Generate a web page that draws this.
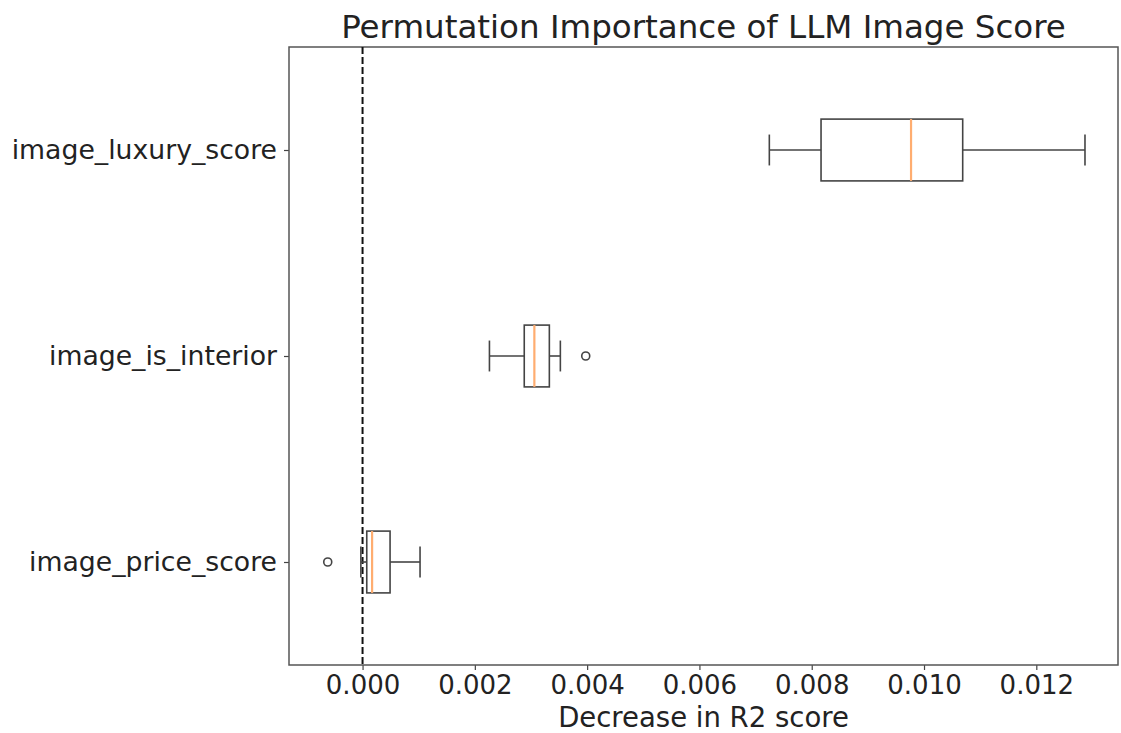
<!DOCTYPE html>
<html>
<head>
<meta charset="utf-8">
<script src="https://cdn.jsdelivr.net/npm/d3@7"></script>
<style>
  body { margin: 0; background: #fff; }
  svg { display: block; font-family: "DejaVu Sans", sans-serif; }
</style>
</head>
<body>
<div id="chart"></div>
<script>
// features, bottom to top (matplotlib order)
const features = ["image_price_score", "image_is_interior", "image_luxury_score"];
const whiskerLow = [-0.00003, 0.00226, 0.007245];
const q1 = [0.000075, 0.00288, 0.008166];
const median = [0.00017, 0.00306, 0.009769];
const q3 = [0.00049, 0.003327, 0.010689];
const whiskerHigh = [0.001024, 0.003523, 0.012867];
const outliers = [[-0.00062], [0.003975], []];
const xTicks = [0, 0.002, 0.004, 0.006, 0.008, 0.010, 0.012];

const width = 1121;
const height = 733;
const margin = { top: 47, right: 3, bottom: 68, left: 289 };

const x = d3
  .scaleLinear()
  .domain([-0.00131, 0.013455])
  .range([margin.left, width - margin.right]);

const y = d3
  .scaleLinear()
  .domain([0.5, 3.5])
  .range([height - margin.bottom, margin.top]);

const boxHalf = 0.15;
const capHalf = 0.075;

const svg = d3
  .create("svg")
  .attr("width", width)
  .attr("height", height)
  .attr("viewBox", [0, 0, width, height]);

// x axis
svg
  .append("g")
  .attr("transform", `translate(0,${height - margin.bottom})`)
  .call(
    d3
      .axisBottom(x)
      .tickValues(xTicks)
      .tickFormat(d3.format(".3f"))
      .tickSize(5)
      .tickPadding(6)
  )
  .call((g) => g.select(".domain").remove())
  .call((g) => g.selectAll("line").attr("stroke", "#444").attr("stroke-width", 1.2))
  .call((g) =>
    g.selectAll("text")
      .attr("font-size", 26)
      .attr("fill", "#222")
      .attr("font-family", "DejaVu Sans, sans-serif")
  );

// y axis
svg
  .append("g")
  .attr("transform", `translate(${margin.left},0)`)
  .call(
    d3
      .axisLeft(y)
      .tickValues([1, 2, 3])
      .tickFormat((d) => features[d - 1])
      .tickSize(5)
      .tickPadding(7)
  )
  .call((g) => g.select(".domain").remove())
  .call((g) => g.selectAll("line").attr("stroke", "#444").attr("stroke-width", 1.2))
  .call((g) =>
    g.selectAll("text")
      .attr("font-size", 26.7)
      .attr("fill", "#222")
      .attr("font-family", "DejaVu Sans, sans-serif")
  );

// frame
svg
  .append("rect")
  .attr("x", margin.left)
  .attr("y", margin.top)
  .attr("width", width - margin.left - margin.right)
  .attr("height", height - margin.top - margin.bottom)
  .attr("fill", "none")
  .attr("stroke", "#555")
  .attr("stroke-width", 1.5);

// zero reference line
svg
  .append("line")
  .attr("x1", x(0))
  .attr("x2", x(0))
  .attr("y1", margin.top)
  .attr("y2", height - margin.bottom)
  .attr("stroke", "#111")
  .attr("stroke-width", 2)
  .attr("stroke-dasharray", "7,3");

const boxes = features.map((f, i) => ({
  feature: f,
  pos: i + 1,
  lo: whiskerLow[i],
  q1: q1[i],
  med: median[i],
  q3: q3[i],
  hi: whiskerHigh[i],
  out: outliers[i],
}));

const group = svg
  .append("g")
  .selectAll("g")
  .data(boxes)
  .join("g")
  .attr("stroke", "#444")
  .attr("stroke-width", 1.6)
  .attr("fill", "none");

// whiskers
group
  .append("line")
  .attr("x1", (d) => x(d.lo))
  .attr("x2", (d) => x(d.q1))
  .attr("y1", (d) => y(d.pos))
  .attr("y2", (d) => y(d.pos));
group
  .append("line")
  .attr("x1", (d) => x(d.q3))
  .attr("x2", (d) => x(d.hi))
  .attr("y1", (d) => y(d.pos))
  .attr("y2", (d) => y(d.pos));

// caps
group
  .append("line")
  .attr("x1", (d) => x(d.lo))
  .attr("x2", (d) => x(d.lo))
  .attr("y1", (d) => y(d.pos + capHalf))
  .attr("y2", (d) => y(d.pos - capHalf));
group
  .append("line")
  .attr("x1", (d) => x(d.hi))
  .attr("x2", (d) => x(d.hi))
  .attr("y1", (d) => y(d.pos + capHalf))
  .attr("y2", (d) => y(d.pos - capHalf));

// box
group
  .append("rect")
  .attr("x", (d) => x(d.q1))
  .attr("width", (d) => x(d.q3) - x(d.q1))
  .attr("y", (d) => y(d.pos + boxHalf))
  .attr("height", (d) => y(d.pos - boxHalf) - y(d.pos + boxHalf));

// median
group
  .append("line")
  .attr("x1", (d) => x(d.med))
  .attr("x2", (d) => x(d.med))
  .attr("y1", (d) => y(d.pos + boxHalf))
  .attr("y2", (d) => y(d.pos - boxHalf))
  .attr("stroke", "#ffad70")
  .attr("stroke-width", 2.2);

// fliers
group
  .selectAll("circle")
  .data((d) => d.out.map((v) => ({ v, pos: d.pos })))
  .join("circle")
  .attr("cx", (d) => x(d.v))
  .attr("cy", (d) => y(d.pos))
  .attr("r", 4);

// title
svg
  .append("text")
  .attr("x", (margin.left + width - margin.right) / 2)
  .attr("y", 38)
  .attr("text-anchor", "middle")
  .attr("font-size", 32.5)
  .attr("fill", "#222")
  .text("Permutation Importance of LLM Image Score");

// x label
svg
  .append("text")
  .attr("x", (margin.left + width - margin.right) / 2)
  .attr("y", 727)
  .attr("text-anchor", "middle")
  .attr("font-size", 27.5)
  .attr("fill", "#222")
  .text("Decrease in R2 score");

document.getElementById("chart").append(svg.node());
</script>
</body>
</html>
